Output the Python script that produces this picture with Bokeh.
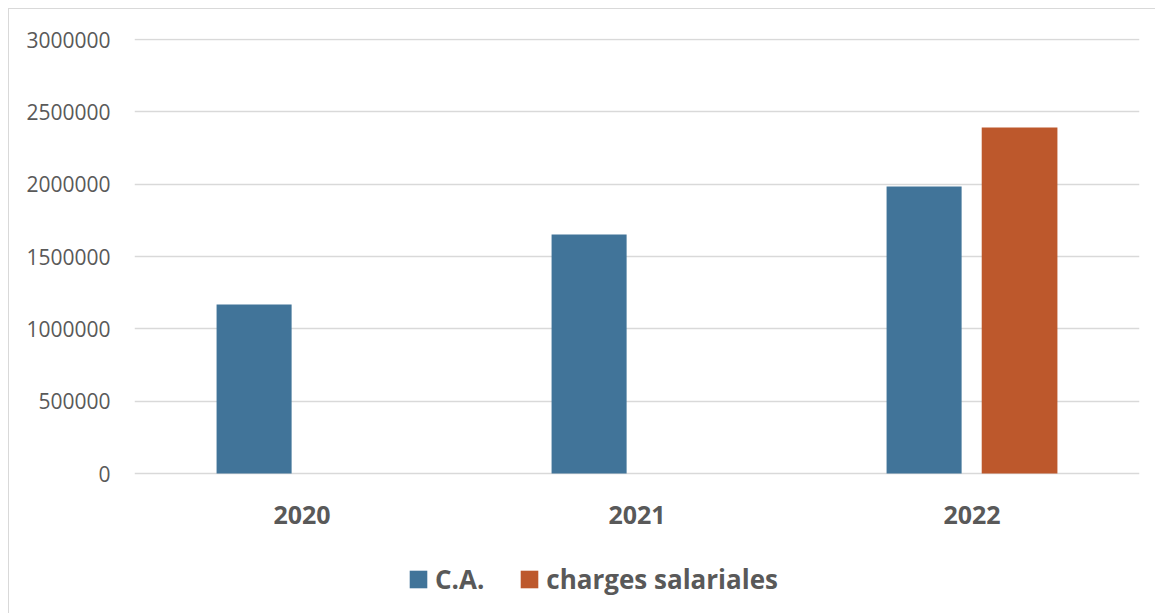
from bokeh.plotting import figure
from bokeh.models import FactorRange, Range1d, FixedTicker, NumeralTickFormatter, Legend, LegendItem, ColumnDataSource
from bokeh.core.properties import value
from bokeh.transform import dodge
from bokeh.embed import file_html
from bokeh.resources import INLINE

years = ["2020", "2021", "2022"]
ca = [1168000, 1652000, 1984000]
charges = [0, 0, 2392000]
series_names = ["C.A.", "charges salariales"]
y_ticks = [0, 500000, 1000000, 1500000, 2000000, 2500000, 3000000]

BLUE = "#417499"
ORANGE = "#BD582C"
GRAY_TXT = "#595959"
GRID = "#d9d9d9"
FONT = "Open Sans"

# layout (pixels)
PLOT_PX = 435          # height of the 0..top part of the frame
BELOW_PX = 140         # space below the zero line kept inside the frame
Y_TOP = 3007000
UNITS_PER_PX = Y_TOP / PLOT_PX
LABEL_OFFSET_PX = 41   # year labels below the zero line

src = ColumnDataSource(dict(years=years, ca=ca, charges=charges))

p = figure(frame_width=1005, frame_height=PLOT_PX + BELOW_PX, x_range=FactorRange(*years),
           y_range=Range1d(-BELOW_PX * UNITS_PER_PX, Y_TOP),
           output_backend="svg", toolbar_location=None,
           min_border_left=125, min_border_right=16, min_border_top=29, min_border_bottom=0)
p.margin = (8, 0, 0, 8)
p.styles = {"border-left": f"1px solid {GRID}", "border-top": f"1px solid {GRID}"}
p.outline_line_color = None
p.background_fill_color = "white"
p.border_fill_color = "white"

r1 = p.vbar(x=dodge("years", -0.143, range=p.x_range), top="ca", width=0.224, source=src,
            fill_color=BLUE, line_color=None)
r2 = p.vbar(x=dodge("years", 0.142, range=p.x_range), top="charges", width=0.226, source=src,
            fill_color=ORANGE, line_color=None)

# year labels (category axis labels)
lab_src = ColumnDataSource(dict(years=years, y=[-LABEL_OFFSET_PX * UNITS_PER_PX] * len(years)))
p.text(x="years", y="y", text="years", source=lab_src, text_align="center", text_baseline="middle",
       text_font=value(FONT), text_font_size="25px", text_font_style="bold", text_color=GRAY_TXT)

p.xaxis.visible = False
p.xgrid.grid_line_color = None
p.ygrid.grid_line_color = GRID
p.ygrid.grid_line_width = 1.5
p.yaxis.ticker = FixedTicker(ticks=y_ticks)
p.yaxis.formatter = NumeralTickFormatter(format="0")
p.yaxis.axis_line_color = None
p.yaxis.major_tick_line_color = None
p.yaxis.minor_tick_line_color = None
p.yaxis.major_label_text_font = FONT
p.yaxis.major_label_text_font_size = "21px"
p.yaxis.major_label_text_color = GRAY_TXT
p.yaxis.major_label_standoff = 18

legend = Legend(items=[LegendItem(label=series_names[0], renderers=[r1]),
                       LegendItem(label=series_names[1], renderers=[r2])],
                orientation="horizontal", location=(273, 16),
                padding=0, margin=0, spacing=34, label_standoff=6,
                glyph_width=22, glyph_height=22,
                border_line_color=None, background_fill_alpha=0,
                label_text_font=FONT, label_text_font_size="26px",
                label_text_font_style="bold", label_text_color=GRAY_TXT)
p.add_layout(legend, "center")

open("out.html", "w").write(file_html(p, INLINE))
